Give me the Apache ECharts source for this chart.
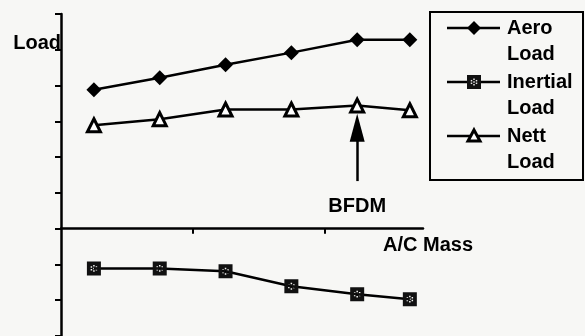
<!DOCTYPE html>
<html>
<head>
<meta charset="utf-8">
<script src="https://cdn.jsdelivr.net/npm/echarts@6/dist/echarts.min.js"></script>
<style>
html,body{margin:0;padding:0;background:#f7f7f5;}
#c{width:585px;height:336px;}
</style>
</head>
<body>
<div id="c"></div>
<script>
// ---- data ----
const massValues = [0.25, 0.75, 1.25, 1.75, 2.25, 2.65];
const aeroLoad = [3.88, 4.22, 4.58, 4.92, 5.28, 5.28];
const inertialLoad = [-1.11, -1.11, -1.19, -1.61, -1.83, -1.97];
const nettLoad = [2.89, 3.06, 3.33, 3.33, 3.44, 3.31];
const seriesNames = ['Aero\nLoad', 'Inertial\nLoad', 'Nett\nLoad'];
const yMin = -3, yMax = 6, yStep = 1;
const xMin = 0, xMax = 2.75, xTickValues = [1, 2];
const bfdmMass = 2.25, bfdmFrom = 1.33, bfdmTo = 2.82;
const bfdmLabel = 'BFDM';
const xName = 'A/C Mass', yName = 'Load';

// ---- styles ----
const FONT = '"Liberation Sans", Arial, sans-serif';
const FS = 20;
const holeCenters = [[7,4.3],[9.5,5.7],[9.5,8.3],[7,9.7],[4.5,8.3],[4.5,5.7],[7,7]];
const HOLE = 0.75;
let sqPath = 'path://M0 0H14V14H0Z';
holeCenters.forEach(([x,y]) => {
  sqPath += `M${x-HOLE} ${y-HOLE}V${y+HOLE}H${x+HOLE}V${y-HOLE}Z`;
});

function pairs(vals){ return massValues.map((m,i)=>[m, vals[i]]); }

const chart = echarts.init(document.getElementById('c'), null, {renderer:'canvas'});

const legendX = 447, legendLineW = 53, legendTextX = 507;
const legendRows = [28, 82, 136];
const lineH = 26.5;

const legendGraphics = [
  {type:'rect', shape:{x:430, y:12, width:153, height:168}, style:{fill:'none', stroke:'#000', lineWidth:2}}
];
legendRows.forEach((y, i) => {
  legendGraphics.push({type:'line', shape:{x1:legendX, y1:y, x2:legendX+legendLineW, y2:y}, style:{stroke:'#000', lineWidth:2.5}});
  const cx = 474;
  if (i === 0) {
    legendGraphics.push({type:'polygon', shape:{points:[[cx,y-7],[cx+7,y],[cx,y+7],[cx-7,y]]}, style:{fill:'#000'}});
  } else if (i === 1) {
    legendGraphics.push({type:'rect', shape:{x:cx-7, y:y-7, width:14, height:14}, style:{fill:'#111'}});
    holeCenters.forEach(([hx,hy]) => {
      legendGraphics.push({type:'rect', shape:{x:cx-7+hx-HOLE, y:y-7+hy-HOLE, width:HOLE*2, height:HOLE*2}, style:{fill:'#e8e8e8'}});
    });
  } else {
    legendGraphics.push({type:'polygon', shape:{points:[[cx,y-6],[cx+6,y+5],[cx-6,y+5]]}, style:{fill:'#fff', stroke:'#000', lineWidth:3}});
  }
  const lines = seriesNames[i].split('\n');
  lines.forEach((t, k) => {
    legendGraphics.push({type:'text', x:legendTextX, y:y + k*lineH, style:{text:t, fill:'#000', font:'bold ' + FS + 'px ' + FONT, textVerticalAlign:'middle', textAlign:'left'}});
  });
});

chart.setOption({
  backgroundColor:'#f7f7f5',
  animation:false,
  grid:{left:61, top:14, width:362, height:324, containLabel:false},
  xAxis:{
    type:'value', min:xMin, max:xMax, interval:1,
    name:xName, nameLocation:'end', nameGap:5,
    nameTextStyle:{fontFamily:FONT, fontWeight:'bold', fontSize:FS, color:'#000', align:'center', verticalAlign:'top', padding:[7,0,0,0]},
    axisLine:{onZero:true, lineStyle:{color:'#000', width:2.5}},
    axisTick:{show:true, inside:false, length:5, lineStyle:{color:'#000', width:2}, customValues:xTickValues},
    axisLabel:{show:false},
    splitLine:{show:false}
  },
  yAxis:{
    type:'value', min:yMin, max:yMax, interval:yStep,
    name:yName, nameLocation:'end', nameGap:-29,
    nameTextStyle:{fontFamily:FONT, fontWeight:'bold', fontSize:FS, color:'#000', align:'right', verticalAlign:'middle'},
    axisLine:{show:true, onZero:false, lineStyle:{color:'#000', width:2.5}},
    axisTick:{show:true, inside:false, length:6, lineStyle:{color:'#000', width:2}},
    axisLabel:{show:false},
    splitLine:{show:false}
  },
  series:[
    {
      name:seriesNames[0], type:'line', data:pairs(aeroLoad),
      symbol:'diamond', symbolSize:15,
      lineStyle:{color:'#000', width:2.5},
      itemStyle:{color:'#000'}
    },
    {
      name:seriesNames[1], type:'line', data:pairs(inertialLoad),
      symbol:sqPath, symbolSize:14,
      lineStyle:{color:'#000', width:2.5},
      itemStyle:{color:'#111'}
    },
    {
      name:seriesNames[2], type:'line', data:pairs(nettLoad),
      symbol:'triangle', symbolSize:13,
      lineStyle:{color:'#000', width:2.5},
      itemStyle:{color:'#fff', borderColor:'#000', borderWidth:3},
      markLine:{
        silent:true, animation:false,
        symbol:['none','triangle'], symbolSize:[15,28],
        lineStyle:{color:'#000', width:2.5, type:'solid'},
        label:{show:true, position:'start', formatter:bfdmLabel, distance:15, color:'#000', fontFamily:FONT, fontWeight:'bold', fontSize:FS},
        data:[[{coord:[bfdmMass, bfdmFrom]}, {coord:[bfdmMass, bfdmTo]}]]
      }
    }
  ],
  graphic: legendGraphics
});
</script>
</body>
</html>
